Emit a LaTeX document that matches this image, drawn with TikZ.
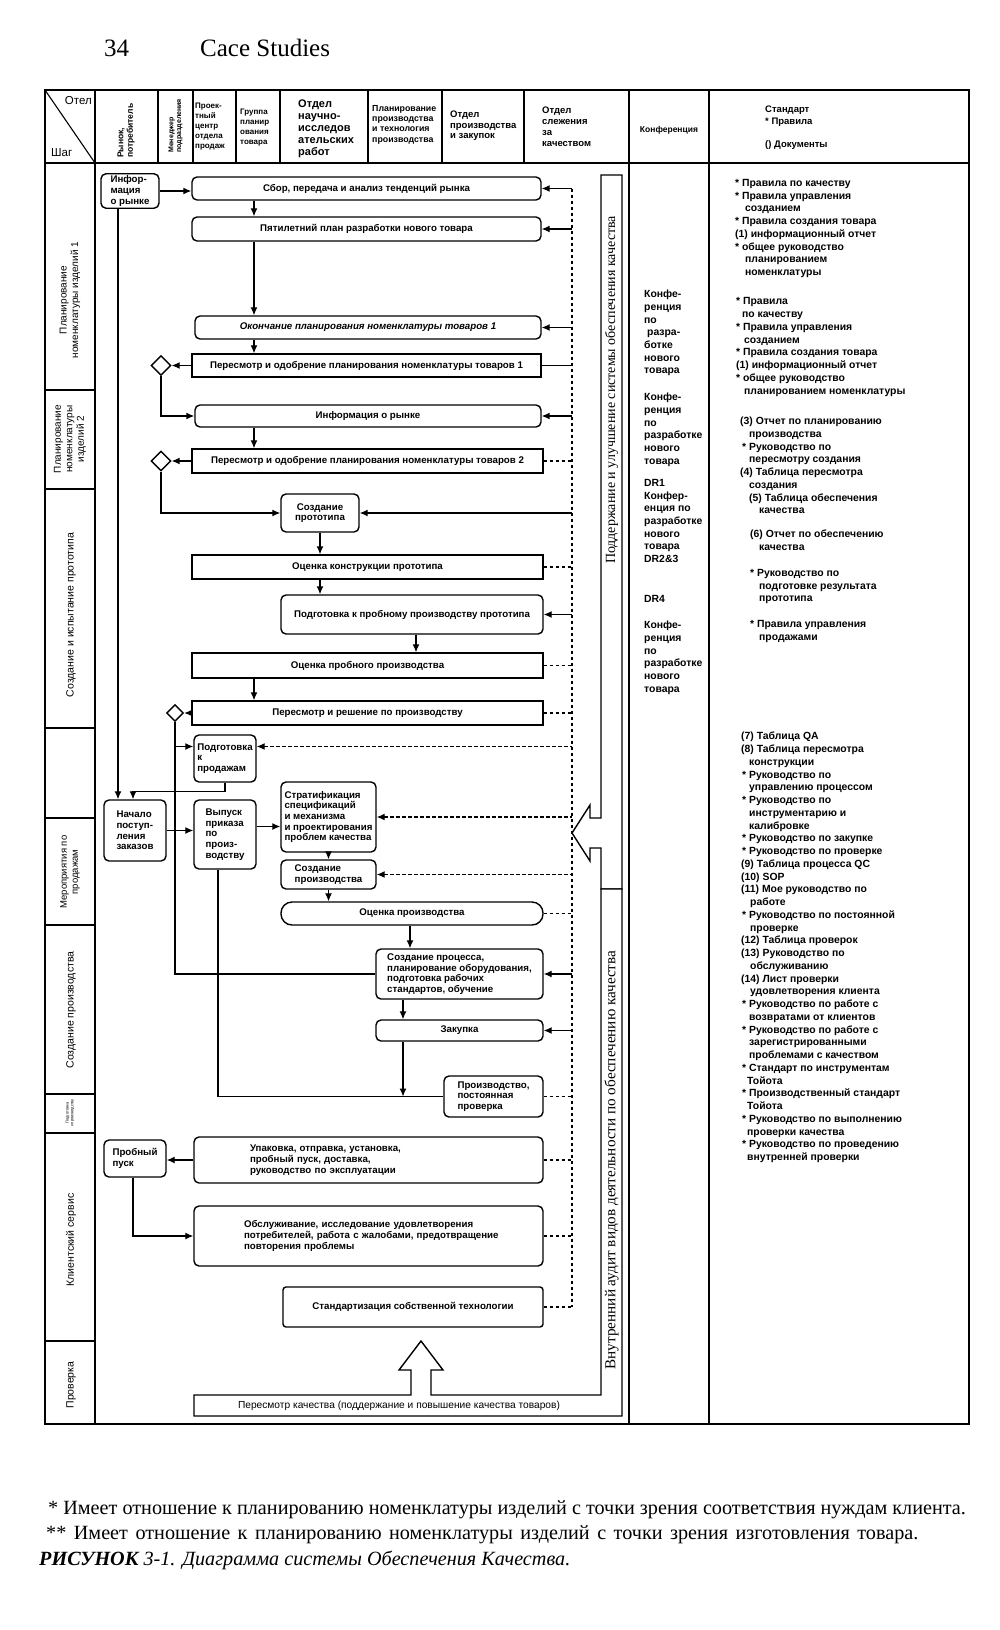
\documentclass[tikz,border=0pt]{standalone}
\usepackage{fontspec}
\setmainfont{Liberation Sans}
\newfontfamily\timesfont{Liberation Serif}
\usetikzlibrary{shapes.geometric,arrows.meta}
\newcommand\fsz[2]{\fontsize{#1}{#2}\selectfont}

\begin{document}
\begin{tikzpicture}[x=1pt, y=-1pt, >={Latex[length=8pt,width=7pt]},
    every node/.style={font=\bfseries\fsz{9.7}{10.7}}]
  \tikzstyle{rbox}=[draw, line width=1.4pt, rounded corners=5pt, align=center, inner sep=2pt]
  \tikzstyle{sbox}=[draw, line width=1.4pt, align=center, inner sep=2pt]
  \tikzstyle{gate}=[draw, diamond, line width=1.4pt, minimum size=20pt, inner sep=0pt, fill=white]
  \tikzstyle{flow}=[->, line width=1.2pt]
  \tikzstyle{fb}=[line width=1.2pt]
  \tikzstyle{fbd}=[line width=1.2pt, dash pattern=on 3.5pt off 2.5pt]
  \tikzstyle{frame}=[line width=1.6pt]
  \tikzstyle{band}=[line width=1.4pt, fill=white]
  \tikzstyle{hcell}=[anchor=west, align=left, inner sep=0pt]
  \tikzstyle{steplbl}=[rotate=90, align=center, inner sep=0pt, font=\fsz{10.5}{12}]
  \tikzstyle{conf}=[anchor=north west, align=left, inner sep=0pt, font=\bfseries\fsz{10.4}{12.7}]
  \tikzstyle{std}=[anchor=north west, align=left, inner sep=0pt, font=\bfseries\fsz{10.4}{12.75}]
  \tikzstyle{serifbig}=[anchor=west, inner sep=0pt, font=\timesfont\fsz{25}{30}]
  \tikzstyle{foot}=[anchor=west, inner sep=0pt, font=\timesfont\fsz{20.2}{24}]
  \tikzstyle{bandtxt}=[rotate=90, inner sep=0pt, font=\timesfont\fsz{14}{16}]

  \useasboundingbox (0,0) rectangle (1000,1630);

  \node[serifbig] (pgno) at (104,48) {34};
  \node[serifbig] (runhead) at (200,48) {Cace Studies};

  % table frame
  \draw[frame] (45,90) rectangle (969,1424);
  \draw[frame] (45,163) -- (969,163);
  \foreach \x in {95,158,193,236,280,368,442,524} \draw[frame] (\x,90) -- (\x,163);
  \draw[frame] (95,163) -- (95,1424);
  \foreach \x in {629,709} \draw[frame] (\x,90) -- (\x,1424);
  \foreach \y in {390,489,728,818,925,1094,1133,1341} \draw[frame] (45,\y) -- (95,\y);
  \draw[line width=1.1pt] (45,90) -- (95,163);

  % header
  \node[hcell, anchor=north east, font=\fsz{11.5}{13}] (otel) at (92,96) {Отел};
  \node[hcell, anchor=south west, font=\fsz{11.5}{13}] (shag) at (51,157) {Шаг};
  \node[hcell, rotate=90, font=\bfseries\fsz{8.5}{9.5}] (hmarket) at (126,158) {Рынок,\\потребитель};
  \node[hcell, rotate=90, font=\bfseries\fsz{7}{7.8}] (hmgr) at (175.5,153) {Менеджер\\подразделения};
  \node[hcell, font=\bfseries\fsz{8}{10}] (hsales) at (195,126.5) {Проек-\\тный\\центр\\отдела\\продаж};
  \node[hcell, font=\bfseries\fsz{8}{10}] (hgroup) at (240,127.5) {Группа\\планир\\ования\\товара};
  \node[hcell, font=\bfseries\fsz{11}{12}] (hrnd) at (298,129) {Отдел\\научно-\\исследов\\ательских\\работ};
  \node[hcell, font=\bfseries\fsz{8.8}{10.4}] (hplan) at (372,124.5) {Планирование\\производства\\и технология\\производства};
  \node[hcell, font=\bfseries\fsz{9.5}{10.6}] (hprod) at (450,126) {Отдел\\производства\\и закупок};
  \node[hcell, font=\bfseries\fsz{9.5}{11}] (hqual) at (542,127) {Отдел\\слежения\\за\\качеством};
  \node[font=\bfseries\fsz{8.5}{9}] (hconf) at (669,130) {Конференция};
  \node[hcell, anchor=north west, font=\bfseries\fsz{9.5}{11.5}] (hstd) at (765,106) {Стандарт\\* Правила\\[11.5pt]() Документы};

  % steps
  \node[steplbl, font=\fsz{10}{11.5}] (s1) at (70,300) {Планирование\\номенклатуры изделий 1};
  \node[steplbl, font=\fsz{10}{11.5}] (s2) at (70,439) {Планирование\\номенклатуры\\изделий 2};
  \node[steplbl] (s3) at (71,615) {Создание и испытание прототипа};
  \node[steplbl, font=\fsz{9.5}{11}] (s5) at (70,872) {Мероприятия по\\продажам};
  \node[steplbl] (s6) at (71,1010) {Создание производства};
  \node[steplbl, font=\fsz{4}{4.6}] (s7) at (70,1113) {Подготовка\\к производству};
  \node[steplbl] (s8) at (71,1240) {Клиентский сервис};
  \node[steplbl] (s9) at (71,1385) {Проверка};

  % process boxes
  \node[rbox, minimum width=58pt, minimum height=34pt, align=left] (info) at (130,191) {Инфор-\\мация\\о рынке};
  \node[rbox, minimum width=349pt, minimum height=23pt] (collect) at (366.5,188.5) {Сбор, передача и анализ тенденций рынка};
  \node[rbox, minimum width=349pt, minimum height=24pt] (plan) at (366.5,229) {Пятилетний план разработки нового товара};
  \node[rbox, minimum width=346pt, minimum height=23pt, font=\bfseries\itshape\fsz{9.7}{10.7}] (endplan) at (368,327.5) {Окончание планирования номенклатуры товаров 1};
  \node[sbox, minimum width=349pt, minimum height=23pt] (review1) at (366.5,365.5) {Пересмотр и одобрение планирования номенклатуры товаров 1};
  \node[gate] (gate1) at (161,365.5) {};
  \node[rbox, minimum width=346pt, minimum height=22pt] (market) at (368,416) {Информация о рынке};
  \node[sbox, minimum width=351pt, minimum height=24pt] (review2) at (367.5,461) {Пересмотр и одобрение планирования номенклатуры товаров 2};
  \node[gate] (gate2) at (161,461) {};
  \node[rbox, minimum width=78pt, minimum height=38pt] (proto) at (320,513) {Создание\\прототипа};
  \node[sbox, minimum width=351pt, minimum height=24pt] (evalproto) at (367.5,567) {Оценка конструкции прототипа};
  \node[rbox, minimum width=262pt, minimum height=39pt] (prepproto) at (412,614.5) {Подготовка к пробному производству прототипа};
  \node[sbox, minimum width=351pt, minimum height=25pt] (evaltrial) at (367.5,665.5) {Оценка пробного производства};
  \node[sbox, minimum width=351pt, minimum height=24pt] (decide) at (367.5,713) {Пересмотр и решение по производству};
  \node[gate, minimum size=17pt] (gate3) at (175,713) {};
  \node[rbox, minimum width=62pt, minimum height=47pt, inner xsep=1pt, align=left] (presale) at (225,758.5) {Подготовка\\к\\продажам};
  \node[rbox, minimum width=62pt, minimum height=61pt, align=left] (orders) at (135,830.5) {Начало\\поступ-\\ления\\заказов};
  \node[rbox, minimum width=62pt, minimum height=69pt, align=left] (release) at (225,834.5) {Выпуск\\приказа\\по\\произ-\\водству};
  \node[rbox, minimum width=95pt, minimum height=70pt, inner xsep=1pt, align=left] (strat) at (328.5,817) {Стратификация\\спецификаций\\и механизма\\и проектирования\\проблем качества};
  \node[rbox, minimum width=95pt, minimum height=29pt, align=left] (mkprod) at (328.5,874.5) {Создание\\производства};
  \node[rbox, minimum width=262pt, minimum height=23pt, rounded corners=11pt] (evalprod) at (412,913.5) {Оценка производства};
  \node[rbox, minimum width=167pt, minimum height=50pt, align=left] (process) at (459.5,974) {Создание процесса,\\планирование оборудования,\\подготовка рабочих\\стандартов, обучение};
  \node[rbox, minimum width=167pt, minimum height=21pt] (purchase) at (459.5,1030.5) {Закупка};
  \node[rbox, minimum width=99pt, minimum height=41pt, align=left] (output) at (493.5,1096.5) {Производство,\\постоянная\\проверка};
  \node[rbox, minimum width=62pt, minimum height=37pt, align=left] (trial) at (135,1158.5) {Пробный\\пуск};
  \node[rbox, text width=237pt, inner xsep=56pt, minimum height=46pt, align=left] (packing) at (368.5,1160) {Упаковка, отправка, установка,\\пробный пуск, доставка,\\руководство по эксплуатации};
  \node[rbox, text width=299pt, inner xsep=25pt, minimum height=60pt, align=left] (service) at (368.5,1236) {\hspace*{25pt}Обслуживание, исследование удовлетворения\\\hspace*{25pt}потребителей, работа с жалобами, предотвращение\\\hspace*{25pt}повторения проблемы};
  \node[rbox, rounded corners=3pt, minimum width=260pt, minimum height=40pt] (stdtech) at (413,1307) {Стандартизация собственной технологии};

  % main flow
  \coordinate (xa) at (254,0);
  \coordinate (xb) at (416,0);
  \coordinate (xc) at (410,0);
  \coordinate (xd) at (403,0);
  \coordinate (xe) at (218,0);
  \coordinate (xi) at (118,0);
  \coordinate (xo) at (133,0);
  \coordinate (xf) at (133,0);
  \draw[flow] (info) -- (info -| collect.west);
  \draw[flow] (collect.south -| xa) -- (plan.north -| xa);
  \draw[flow] (plan.south -| xa) -- (endplan.north -| xa);
  \draw[flow] (endplan.south -| xa) -- (review1.north -| xa);
  \draw[flow] (review1.west) -- (gate1.east);
  \draw[flow] (gate1.south) |- (market.west);
  \draw[flow] (market.south -| xa) -- (review2.north -| xa);
  \draw[flow] (review2.west) -- (gate2.east);
  \draw[flow] (gate2.south) |- (proto.west);
  \draw[flow] (proto.south) -- (proto.south |- evalproto.north);
  \draw[flow] (evalproto.south -| proto) -- (prepproto.north -| proto);
  \draw[flow] (prepproto.south -| xb) -- (evaltrial.north -| xb);
  \draw[flow] (evaltrial.south -| xa) -- (decide.north -| xa);
  \draw[flow] (decide.west) -- (gate3.east);
  \coordinate (ps) at ([yshift=12pt]presale.west);
  \draw[fb] (gate3.south) |- (process.west);
  \draw[flow] (gate3.south |- ps) -- (ps);
  \draw[flow] (info.south -| xi) -- (orders.north -| xi);
  \draw[flow] (presale.south) -- ++(0,9) -| (orders.north -| xo);
  \draw[flow] (orders.east) -- (orders.east -| release.west);
  \coordinate (rs) at ([yshift=8pt]release.east);
  \draw[flow] (rs) -- (rs -| strat.west);
  \draw[flow] (strat) -- (mkprod);
  \draw[flow] (mkprod.south) -- (mkprod.south |- evalprod.north);
  \draw[flow] (evalprod.south -| xc) -- (process.north -| xc);
  \draw[flow] (process.south -| xd) -- (purchase.north -| xd);
  \draw[fb] (release.south -| xe) |- (output.west);
  \draw[flow] (purchase.south -| xd) -- (output.west -| xd);
  \draw[flow] (packing.west) -- (packing.west -| trial.east);
  \draw[flow] (trial.south -| xf) |- (service.west);

  % feedback from quality department
  \coordinate (fbx) at (572,0);
  \draw[fbd] (collect.east -| fbx) -- (stdtech.east -| fbx);
  \foreach \n in {collect,plan,endplan,market,proto,prepproto,process,purchase}
    \draw[fb, <-] (\n.east) -- (\n.east -| fbx);
  \draw[fb] (review1.east) -- (review1.east -| fbx);
  \foreach \n in {review2,evalproto,evaltrial,decide,evalprod,output,packing,service,stdtech}
    \draw[fbd] (\n.east) -- (\n.east -| fbx);
  \foreach \n in {strat,mkprod}
    \draw[fbd, <-] (\n.east) -- (\n.east -| fbx);
  \coordinate (pe) at ([yshift=12pt]presale.east);
  \draw[fbd, <-] (pe) -- (pe -| fbx);

  % quality system bands
  \draw[band] (622,175) -- (601,175) -- (601,818) -- (590,818) -- (590,805) -- (572,833)
    -- (590,861) -- (590,848) -- (601,848) -- (601,889) -- (622,889) -- cycle;
  \node[bandtxt] (keep) at (611.5,390) {Поддержание и улучшение системы обеспечения качества};
  \draw[band] (601,889) -- (622,889) -- (622,1416) -- (194,1416) -- (194,1395) -- (411,1395)
    -- (411,1370) -- (399,1370) -- (421,1341) -- (443,1370) -- (431,1370) -- (431,1395)
    -- (601,1395) -- cycle;
  \node[bandtxt, font=\timesfont\fsz{15.2}{17}] (audit) at (611.5,1160) {Внутренний аудит видов деятельности по обеспечению качества};
  \node[font=\fsz{10.2}{11}] (qreview) at (399,1405.5) {Пересмотр качества (поддержание и повышение качества товаров)};

  % conferences
  \node[conf] (c1) at (644,290) {Конфе-\\ренция\\по\\\hspace*{3pt}разра-\\ботке\\нового\\товара};
  \node[conf] (c2) at (644,393) {Конфе-\\ренция\\по\\разработке\\нового\\товара};
  \node[conf] (c3) at (644,479) {DR1\\Конфер-\\енция по\\разработке\\нового\\товара\\DR2\&3};
  \node[conf] (c4) at (644,595) {DR4};
  \node[conf] (c5) at (644,621) {Конфе-\\ренция\\по\\разработке\\нового\\товара};

  % standards and documents
  \node[std] (d1) at (735,179) {* Правила по качеству\\* Правила управления\\\hspace*{10pt}созданием\\* Правила создания товара\\(1) информационный отчет\\* общее руководство\\\hspace*{10pt}планированием\\\hspace*{10pt}номенклатуры};
  \node[std] (d2) at (736,297.5) {* Правила\\\hspace*{6pt}по качеству\\* Правила управления\\\hspace*{8pt}созданием\\* Правила создания товара\\(1) информационный отчет\\* общее руководство\\\hspace*{8pt}планированием номенклатуры};
  \node[std] (d3) at (740,417) {(3) Отчет по планированию\\\hspace*{9pt}производства\\\hspace*{2pt}* Руководство по\\\hspace*{9pt}пересмотру создания\\(4) Таблица пересмотра\\\hspace*{9pt}создания\\\hspace*{9pt}(5) Таблица обеспечения\\\hspace*{19pt}качества};
  \node[std] (d4) at (750,530) {(6) Отчет по обеспечению\\\hspace*{9pt}качества};
  \node[std] (d5) at (750,569) {* Руководство по\\\hspace*{9pt}подготовке результата\\\hspace*{9pt}прототипа};
  \node[std] (d6) at (750,620) {* Правила управления\\\hspace*{9pt}продажами};
  \node[std] (d7) at (741,732) {(7) Таблица QA\\(8) Таблица пересмотра\\\hspace*{8pt}конструкции\\\hspace*{1pt}* Руководство по\\\hspace*{8pt}управлению процессом\\\hspace*{1pt}* Руководство по\\\hspace*{8pt}инструментарию и\\\hspace*{8pt}калибровке\\\hspace*{1pt}* Руководство по закупке\\\hspace*{1pt}* Руководство по проверке\\(9) Таблица процесса QC\\(10) SOP\\(11) Мое руководство по\\\hspace*{9pt}работе\\\hspace*{1pt}* Руководство по постоянной\\\hspace*{9pt}проверке\\(12) Таблица проверок\\(13) Руководство по\\\hspace*{9pt}обслуживанию\\(14) Лист проверки\\\hspace*{9pt}удовлетворения клиента\\\hspace*{1pt}* Руководство по работе с\\\hspace*{8pt}возвратами от клиентов\\\hspace*{1pt}* Руководство по работе с\\\hspace*{8pt}зарегистрированными\\\hspace*{8pt}проблемами с качеством\\\hspace*{1pt}* Стандарт по инструментам\\\hspace*{6pt}Тойота\\\hspace*{1pt}* Производственный стандарт\\\hspace*{6pt}Тойота\\\hspace*{1pt}* Руководство по выполнению\\\hspace*{6pt}проверки качества\\\hspace*{1pt}* Руководство по проведению\\\hspace*{6pt}внутренней проверки};

  % notes
  \node[foot] (note1) at (48,1510) {* Имеет отношение к планированию номенклатуры изделий с точки зрения соответствия нуждам клиента.};
  \node[foot] (note2) at (46,1535) {\spaceskip=7.5pt plus 1pt ** Имеет отношение к планированию номенклатуры изделий с точки зрения изготовления товара.};
  \node[foot] (caption) at (39,1560) {\bfseries\itshape РИСУНОК \mdseries 3-1. Диаграмма системы Обеспечения Качества.};
\end{tikzpicture}
\end{document}
